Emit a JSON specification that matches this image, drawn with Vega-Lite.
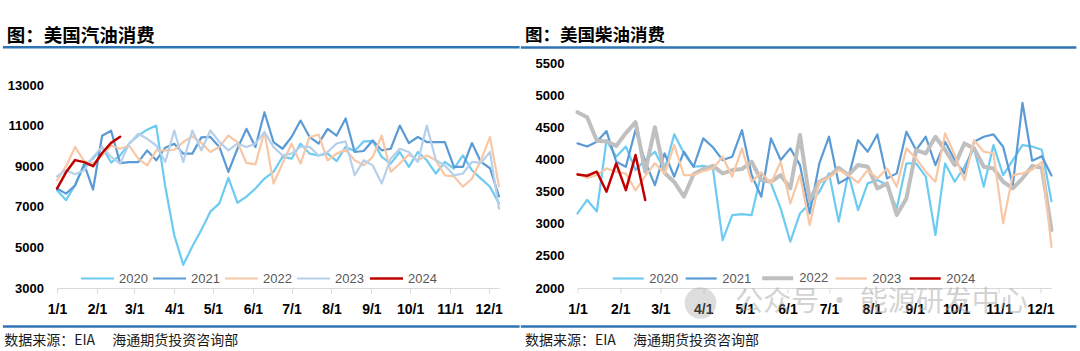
{
"$schema": "https://vega.github.io/schema/vega-lite/v6.json",
"padding": 0,
"background": "white",
"bounds": "flush",
"spacing": 78.5,
"config": {"view": {"stroke": null}},
"resolve": {"scale": {"color": "independent", "strokeWidth": "independent"}, "legend": {"color": "independent"}},
"datasets": {
"gasoline": [
{"date":"2020-01-01","year":"2020","value":7820},{"date":"2020-01-08","year":"2020","value":7330},{"date":"2020-01-15","year":"2020","value":8060},{"date":"2020-01-22","year":"2020","value":9040},{"date":"2020-01-29","year":"2020","value":9370},{"date":"2020-02-05","year":"2020","value":9950},{"date":"2020-02-12","year":"2020","value":9180},{"date":"2020-02-19","year":"2020","value":9530},{"date":"2020-02-26","year":"2020","value":10110},{"date":"2020-03-04","year":"2020","value":10510},{"date":"2020-03-11","year":"2020","value":10800},{"date":"2020-03-18","year":"2020","value":11000},{"date":"2020-03-25","year":"2020","value":8000},{"date":"2020-04-01","year":"2020","value":5600},{"date":"2020-04-08","year":"2020","value":4140},{"date":"2020-04-15","year":"2020","value":5040},{"date":"2020-04-22","year":"2020","value":5860},{"date":"2020-04-29","year":"2020","value":6760},{"date":"2020-05-06","year":"2020","value":7170},{"date":"2020-05-13","year":"2020","value":8430},{"date":"2020-05-20","year":"2020","value":7200},{"date":"2020-05-27","year":"2020","value":7500},{"date":"2020-06-03","year":"2020","value":7900},{"date":"2020-06-10","year":"2020","value":8390},{"date":"2020-06-17","year":"2020","value":8720},{"date":"2020-06-24","year":"2020","value":9460},{"date":"2020-07-01","year":"2020","value":9370},{"date":"2020-07-08","year":"2020","value":10110},{"date":"2020-07-15","year":"2020","value":9620},{"date":"2020-07-22","year":"2020","value":9530},{"date":"2020-07-29","year":"2020","value":9620},{"date":"2020-08-05","year":"2020","value":9250},{"date":"2020-08-12","year":"2020","value":9950},{"date":"2020-08-19","year":"2020","value":9750},{"date":"2020-08-26","year":"2020","value":10220},{"date":"2020-09-02","year":"2020","value":10240},{"date":"2020-09-09","year":"2020","value":9460},{"date":"2020-09-16","year":"2020","value":9130},{"date":"2020-09-23","year":"2020","value":9700},{"date":"2020-09-30","year":"2020","value":8970},{"date":"2020-10-07","year":"2020","value":9700},{"date":"2020-10-14","year":"2020","value":9290},{"date":"2020-10-21","year":"2020","value":8640},{"date":"2020-10-28","year":"2020","value":9210},{"date":"2020-11-04","year":"2020","value":8880},{"date":"2020-11-11","year":"2020","value":9530},{"date":"2020-11-18","year":"2020","value":8800},{"date":"2020-11-25","year":"2020","value":8390},{"date":"2020-12-02","year":"2020","value":7990},{"date":"2020-12-09","year":"2020","value":7170},
{"date":"2020-01-01","year":"2021","value":7900},{"date":"2020-01-08","year":"2021","value":7650},{"date":"2020-01-15","year":"2021","value":8050},{"date":"2020-01-22","year":"2021","value":9100},{"date":"2020-01-29","year":"2021","value":7850},{"date":"2020-02-05","year":"2021","value":10500},{"date":"2020-02-12","year":"2021","value":10750},{"date":"2020-02-19","year":"2021","value":9150},{"date":"2020-02-26","year":"2021","value":9200},{"date":"2020-03-04","year":"2021","value":9200},{"date":"2020-03-11","year":"2021","value":9780},{"date":"2020-03-18","year":"2021","value":9290},{"date":"2020-03-25","year":"2021","value":9910},{"date":"2020-04-01","year":"2021","value":10110},{"date":"2020-04-08","year":"2021","value":9620},{"date":"2020-04-15","year":"2021","value":9620},{"date":"2020-04-22","year":"2021","value":10420},{"date":"2020-04-29","year":"2021","value":10440},{"date":"2020-05-06","year":"2021","value":9950},{"date":"2020-05-13","year":"2021","value":8720},{"date":"2020-05-20","year":"2021","value":9860},{"date":"2020-05-27","year":"2021","value":10840},{"date":"2020-06-03","year":"2021","value":9950},{"date":"2020-06-10","year":"2021","value":11660},{"date":"2020-06-17","year":"2021","value":10190},{"date":"2020-06-24","year":"2021","value":9860},{"date":"2020-07-01","year":"2021","value":10440},{"date":"2020-07-08","year":"2021","value":11250},{"date":"2020-07-15","year":"2021","value":10440},{"date":"2020-07-22","year":"2021","value":10110},{"date":"2020-07-29","year":"2021","value":10840},{"date":"2020-08-05","year":"2021","value":10510},{"date":"2020-08-12","year":"2021","value":11350},{"date":"2020-08-19","year":"2021","value":9700},{"date":"2020-08-26","year":"2021","value":9750},{"date":"2020-09-02","year":"2021","value":10270},{"date":"2020-09-09","year":"2021","value":9780},{"date":"2020-09-16","year":"2021","value":9860},{"date":"2020-09-23","year":"2021","value":11000},{"date":"2020-09-30","year":"2021","value":10140},{"date":"2020-10-07","year":"2021","value":10440},{"date":"2020-10-14","year":"2021","value":10190},{"date":"2020-10-21","year":"2021","value":10190},{"date":"2020-10-28","year":"2021","value":10190},{"date":"2020-11-04","year":"2021","value":8970},{"date":"2020-11-11","year":"2021","value":8970},{"date":"2020-11-18","year":"2021","value":10140},{"date":"2020-11-25","year":"2021","value":9210},{"date":"2020-12-02","year":"2021","value":8900},{"date":"2020-12-09","year":"2021","value":7510},
{"date":"2020-01-01","year":"2022","value":8300},{"date":"2020-01-08","year":"2022","value":9000},{"date":"2020-01-15","year":"2022","value":9950},{"date":"2020-01-22","year":"2022","value":9250},{"date":"2020-01-29","year":"2022","value":9130},{"date":"2020-02-05","year":"2022","value":9530},{"date":"2020-02-12","year":"2022","value":10020},{"date":"2020-02-19","year":"2022","value":9860},{"date":"2020-02-26","year":"2022","value":10020},{"date":"2020-03-04","year":"2022","value":9370},{"date":"2020-03-11","year":"2022","value":9040},{"date":"2020-03-18","year":"2022","value":9780},{"date":"2020-03-25","year":"2022","value":9780},{"date":"2020-04-01","year":"2022","value":9810},{"date":"2020-04-08","year":"2022","value":10190},{"date":"2020-04-15","year":"2022","value":10470},{"date":"2020-04-22","year":"2022","value":10150},{"date":"2020-04-29","year":"2022","value":9700},{"date":"2020-05-06","year":"2022","value":9950},{"date":"2020-05-13","year":"2022","value":10510},{"date":"2020-05-20","year":"2022","value":10190},{"date":"2020-05-27","year":"2022","value":9160},{"date":"2020-06-03","year":"2022","value":9090},{"date":"2020-06-10","year":"2022","value":10700},{"date":"2020-06-17","year":"2022","value":8150},{"date":"2020-06-24","year":"2022","value":9130},{"date":"2020-07-01","year":"2022","value":10110},{"date":"2020-07-08","year":"2022","value":9130},{"date":"2020-07-15","year":"2022","value":10440},{"date":"2020-07-22","year":"2022","value":10550},{"date":"2020-07-29","year":"2022","value":9290},{"date":"2020-08-05","year":"2022","value":9620},{"date":"2020-08-12","year":"2022","value":9810},{"date":"2020-08-19","year":"2022","value":9290},{"date":"2020-08-26","year":"2022","value":9040},{"date":"2020-09-02","year":"2022","value":9460},{"date":"2020-09-09","year":"2022","value":10510},{"date":"2020-09-16","year":"2022","value":8720},{"date":"2020-09-23","year":"2022","value":9130},{"date":"2020-09-30","year":"2022","value":9570},{"date":"2020-10-07","year":"2022","value":9290},{"date":"2020-10-14","year":"2022","value":9530},{"date":"2020-10-21","year":"2022","value":9290},{"date":"2020-10-28","year":"2022","value":8550},{"date":"2020-11-04","year":"2022","value":8500},{"date":"2020-11-11","year":"2022","value":7990},{"date":"2020-11-18","year":"2022","value":8390},{"date":"2020-11-25","year":"2022","value":9290},{"date":"2020-12-02","year":"2022","value":10440},{"date":"2020-12-09","year":"2022","value":8010},
{"date":"2020-01-01","year":"2023","value":8500},{"date":"2020-01-08","year":"2023","value":8800},{"date":"2020-01-15","year":"2023","value":8600},{"date":"2020-01-22","year":"2023","value":8800},{"date":"2020-01-29","year":"2023","value":9460},{"date":"2020-02-05","year":"2023","value":9950},{"date":"2020-02-12","year":"2023","value":9460},{"date":"2020-02-19","year":"2023","value":9130},{"date":"2020-02-26","year":"2023","value":10110},{"date":"2020-03-04","year":"2023","value":10600},{"date":"2020-03-11","year":"2023","value":10350},{"date":"2020-03-18","year":"2023","value":10020},{"date":"2020-03-25","year":"2023","value":9210},{"date":"2020-04-01","year":"2023","value":10760},{"date":"2020-04-08","year":"2023","value":9210},{"date":"2020-04-15","year":"2023","value":10760},{"date":"2020-04-22","year":"2023","value":9780},{"date":"2020-04-29","year":"2023","value":10760},{"date":"2020-05-06","year":"2023","value":10190},{"date":"2020-05-13","year":"2023","value":9780},{"date":"2020-05-20","year":"2023","value":10110},{"date":"2020-05-27","year":"2023","value":9950},{"date":"2020-06-03","year":"2023","value":10110},{"date":"2020-06-10","year":"2023","value":10680},{"date":"2020-06-17","year":"2023","value":9950},{"date":"2020-06-24","year":"2023","value":9530},{"date":"2020-07-01","year":"2023","value":9620},{"date":"2020-07-08","year":"2023","value":9950},{"date":"2020-07-15","year":"2023","value":9950},{"date":"2020-07-22","year":"2023","value":9530},{"date":"2020-07-29","year":"2023","value":9700},{"date":"2020-08-05","year":"2023","value":10120},{"date":"2020-08-12","year":"2023","value":10220},{"date":"2020-08-19","year":"2023","value":8550},{"date":"2020-08-26","year":"2023","value":9290},{"date":"2020-09-02","year":"2023","value":9040},{"date":"2020-09-09","year":"2023","value":8150},{"date":"2020-09-16","year":"2023","value":9370},{"date":"2020-09-23","year":"2023","value":9860},{"date":"2020-09-30","year":"2023","value":9700},{"date":"2020-10-07","year":"2023","value":9210},{"date":"2020-10-14","year":"2023","value":11000},{"date":"2020-10-21","year":"2023","value":9290},{"date":"2020-10-28","year":"2023","value":9040},{"date":"2020-11-04","year":"2023","value":8550},{"date":"2020-11-11","year":"2023","value":8640},{"date":"2020-11-18","year":"2023","value":9210},{"date":"2020-11-25","year":"2023","value":9160},{"date":"2020-12-02","year":"2023","value":9700},{"date":"2020-12-09","year":"2023","value":6910},
{"date":"2020-01-01","year":"2024","value":7900},{"date":"2020-01-08","year":"2024","value":8700},{"date":"2020-01-15","year":"2024","value":9300},{"date":"2020-01-22","year":"2024","value":9200},{"date":"2020-01-29","year":"2024","value":9000},{"date":"2020-02-05","year":"2024","value":9650},{"date":"2020-02-12","year":"2024","value":10150},{"date":"2020-02-19","year":"2024","value":10450}
],
"diesel": [
{"date":"2020-01-01","year":"2020","value":3160},{"date":"2020-01-08","year":"2020","value":3370},{"date":"2020-01-15","year":"2020","value":3190},{"date":"2020-01-22","year":"2020","value":4300},{"date":"2020-01-29","year":"2020","value":4040},{"date":"2020-02-05","year":"2020","value":4200},{"date":"2020-02-12","year":"2020","value":3835},{"date":"2020-02-19","year":"2020","value":3990},{"date":"2020-02-26","year":"2020","value":4120},{"date":"2020-03-04","year":"2020","value":3835},{"date":"2020-03-11","year":"2020","value":4390},{"date":"2020-03-18","year":"2020","value":4095},{"date":"2020-03-25","year":"2020","value":3886},{"date":"2020-04-01","year":"2020","value":3900},{"date":"2020-04-08","year":"2020","value":3860},{"date":"2020-04-15","year":"2020","value":2746},{"date":"2020-04-22","year":"2020","value":3135},{"date":"2020-04-29","year":"2020","value":3150},{"date":"2020-05-06","year":"2020","value":3135},{"date":"2020-05-13","year":"2020","value":3783},{"date":"2020-05-20","year":"2020","value":3627},{"date":"2020-05-27","year":"2020","value":3238},{"date":"2020-06-03","year":"2020","value":2720},{"date":"2020-06-10","year":"2020","value":3160},{"date":"2020-06-17","year":"2020","value":3316},{"date":"2020-06-24","year":"2020","value":3497},{"date":"2020-07-01","year":"2020","value":3783},{"date":"2020-07-08","year":"2020","value":3031},{"date":"2020-07-15","year":"2020","value":3783},{"date":"2020-07-22","year":"2020","value":3213},{"date":"2020-07-29","year":"2020","value":3627},{"date":"2020-08-05","year":"2020","value":3679},{"date":"2020-08-12","year":"2020","value":3601},{"date":"2020-08-19","year":"2020","value":3238},{"date":"2020-08-26","year":"2020","value":3938},{"date":"2020-09-02","year":"2020","value":3938},{"date":"2020-09-09","year":"2020","value":3731},{"date":"2020-09-16","year":"2020","value":2824},{"date":"2020-09-23","year":"2020","value":3938},{"date":"2020-09-30","year":"2020","value":3653},{"date":"2020-10-07","year":"2020","value":3886},{"date":"2020-10-14","year":"2020","value":4172},{"date":"2020-10-21","year":"2020","value":3575},{"date":"2020-10-28","year":"2020","value":4223},{"date":"2020-11-04","year":"2020","value":3757},{"date":"2020-11-11","year":"2020","value":3990},{"date":"2020-11-18","year":"2020","value":4223},{"date":"2020-11-25","year":"2020","value":4200},{"date":"2020-12-02","year":"2020","value":4150},{"date":"2020-12-09","year":"2020","value":3350},
{"date":"2020-01-01","year":"2021","value":4250},{"date":"2020-01-08","year":"2021","value":4200},{"date":"2020-01-15","year":"2021","value":4275},{"date":"2020-01-22","year":"2021","value":4441},{"date":"2020-01-29","year":"2021","value":3964},{"date":"2020-02-05","year":"2021","value":3886},{"date":"2020-02-12","year":"2021","value":4460},{"date":"2020-02-19","year":"2021","value":3964},{"date":"2020-02-26","year":"2021","value":3601},{"date":"2020-03-04","year":"2021","value":4094},{"date":"2020-03-11","year":"2021","value":3731},{"date":"2020-03-18","year":"2021","value":4120},{"date":"2020-03-25","year":"2021","value":3886},{"date":"2020-04-01","year":"2021","value":4327},{"date":"2020-04-08","year":"2021","value":4190},{"date":"2020-04-15","year":"2021","value":3990},{"date":"2020-04-22","year":"2021","value":4042},{"date":"2020-04-29","year":"2021","value":4457},{"date":"2020-05-06","year":"2021","value":3757},{"date":"2020-05-13","year":"2021","value":3420},{"date":"2020-05-20","year":"2021","value":4327},{"date":"2020-05-27","year":"2021","value":3990},{"date":"2020-06-03","year":"2021","value":4172},{"date":"2020-06-10","year":"2021","value":3912},{"date":"2020-06-17","year":"2021","value":3161},{"date":"2020-06-24","year":"2021","value":3938},{"date":"2020-07-01","year":"2021","value":4353},{"date":"2020-07-08","year":"2021","value":3627},{"date":"2020-07-15","year":"2021","value":3715},{"date":"2020-07-22","year":"2021","value":4300},{"date":"2020-07-29","year":"2021","value":4120},{"date":"2020-08-05","year":"2021","value":4389},{"date":"2020-08-12","year":"2021","value":3705},{"date":"2020-08-19","year":"2021","value":3783},{"date":"2020-08-26","year":"2021","value":4431},{"date":"2020-09-02","year":"2021","value":4146},{"date":"2020-09-09","year":"2021","value":4353},{"date":"2020-09-16","year":"2021","value":3912},{"date":"2020-09-23","year":"2021","value":4275},{"date":"2020-09-30","year":"2021","value":3990},{"date":"2020-10-07","year":"2021","value":3783},{"date":"2020-10-14","year":"2021","value":4275},{"date":"2020-10-21","year":"2021","value":4353},{"date":"2020-10-28","year":"2021","value":4389},{"date":"2020-11-04","year":"2021","value":4197},{"date":"2020-11-11","year":"2021","value":3601},{"date":"2020-11-18","year":"2021","value":4880},{"date":"2020-11-25","year":"2021","value":3980},{"date":"2020-12-02","year":"2021","value":4050},{"date":"2020-12-09","year":"2021","value":3750},
{"date":"2020-01-01","year":"2022","value":4735},{"date":"2020-01-08","year":"2022","value":4655},{"date":"2020-01-15","year":"2022","value":4290},{"date":"2020-01-22","year":"2022","value":4280},{"date":"2020-01-29","year":"2022","value":4210},{"date":"2020-02-05","year":"2022","value":4410},{"date":"2020-02-12","year":"2022","value":4580},{"date":"2020-02-19","year":"2022","value":3810},{"date":"2020-02-26","year":"2022","value":4500},{"date":"2020-03-04","year":"2022","value":3790},{"date":"2020-03-11","year":"2022","value":3650},{"date":"2020-03-18","year":"2022","value":3420},{"date":"2020-03-25","year":"2022","value":3770},{"date":"2020-04-01","year":"2022","value":3850},{"date":"2020-04-08","year":"2022","value":3900},{"date":"2020-04-15","year":"2022","value":3783},{"date":"2020-04-22","year":"2022","value":3835},{"date":"2020-04-29","year":"2022","value":3850},{"date":"2020-05-06","year":"2022","value":3964},{"date":"2020-05-13","year":"2022","value":3679},{"date":"2020-05-20","year":"2022","value":3653},{"date":"2020-05-27","year":"2022","value":3757},{"date":"2020-06-03","year":"2022","value":3549},{"date":"2020-06-10","year":"2022","value":4379},{"date":"2020-06-17","year":"2022","value":3368},{"date":"2020-06-24","year":"2022","value":3653},{"date":"2020-07-01","year":"2022","value":3731},{"date":"2020-07-08","year":"2022","value":3871},{"date":"2020-07-15","year":"2022","value":3757},{"date":"2020-07-22","year":"2022","value":3912},{"date":"2020-07-29","year":"2022","value":3886},{"date":"2020-08-05","year":"2022","value":3549},{"date":"2020-08-12","year":"2022","value":3627},{"date":"2020-08-19","year":"2022","value":3135},{"date":"2020-08-26","year":"2022","value":3394},{"date":"2020-09-02","year":"2022","value":4146},{"date":"2020-09-09","year":"2022","value":4094},{"date":"2020-09-16","year":"2022","value":4353},{"date":"2020-09-23","year":"2022","value":4146},{"date":"2020-09-30","year":"2022","value":3912},{"date":"2020-10-07","year":"2022","value":4249},{"date":"2020-10-14","year":"2022","value":4172},{"date":"2020-10-21","year":"2022","value":3886},{"date":"2020-10-28","year":"2022","value":3860},{"date":"2020-11-04","year":"2022","value":3653},{"date":"2020-11-11","year":"2022","value":3549},{"date":"2020-11-18","year":"2022","value":3705},{"date":"2020-11-25","year":"2022","value":3900},{"date":"2020-12-02","year":"2022","value":3870},{"date":"2020-12-09","year":"2022","value":2900},
{"date":"2020-01-01","year":"2023","value":3780},{"date":"2020-01-08","year":"2023","value":3710},{"date":"2020-01-15","year":"2023","value":3760},{"date":"2020-01-22","year":"2023","value":3860},{"date":"2020-01-29","year":"2023","value":3810},{"date":"2020-02-05","year":"2023","value":3780},{"date":"2020-02-12","year":"2023","value":3520},{"date":"2020-02-19","year":"2023","value":3740},{"date":"2020-02-26","year":"2023","value":3940},{"date":"2020-03-04","year":"2023","value":3780},{"date":"2020-03-11","year":"2023","value":4223},{"date":"2020-03-18","year":"2023","value":3757},{"date":"2020-03-25","year":"2023","value":3757},{"date":"2020-04-01","year":"2023","value":3819},{"date":"2020-04-08","year":"2023","value":3860},{"date":"2020-04-15","year":"2023","value":4042},{"date":"2020-04-22","year":"2023","value":3731},{"date":"2020-04-29","year":"2023","value":4172},{"date":"2020-05-06","year":"2023","value":3653},{"date":"2020-05-13","year":"2023","value":3798},{"date":"2020-05-20","year":"2023","value":3627},{"date":"2020-05-27","year":"2023","value":3964},{"date":"2020-06-03","year":"2023","value":3316},{"date":"2020-06-10","year":"2023","value":3757},{"date":"2020-06-17","year":"2023","value":2979},{"date":"2020-06-24","year":"2023","value":3653},{"date":"2020-07-01","year":"2023","value":3715},{"date":"2020-07-08","year":"2023","value":3835},{"date":"2020-07-15","year":"2023","value":3757},{"date":"2020-07-22","year":"2023","value":3640},{"date":"2020-07-29","year":"2023","value":3835},{"date":"2020-08-05","year":"2023","value":3705},{"date":"2020-08-12","year":"2023","value":3860},{"date":"2020-08-19","year":"2023","value":3575},{"date":"2020-08-26","year":"2023","value":4172},{"date":"2020-09-02","year":"2023","value":4016},{"date":"2020-09-09","year":"2023","value":3809},{"date":"2020-09-16","year":"2023","value":3653},{"date":"2020-09-23","year":"2023","value":4405},{"date":"2020-09-30","year":"2023","value":4068},{"date":"2020-10-07","year":"2023","value":3679},{"date":"2020-10-14","year":"2023","value":4301},{"date":"2020-10-21","year":"2023","value":4120},{"date":"2020-10-28","year":"2023","value":4094},{"date":"2020-11-04","year":"2023","value":3005},{"date":"2020-11-11","year":"2023","value":3757},{"date":"2020-11-18","year":"2023","value":3783},{"date":"2020-11-25","year":"2023","value":3841},{"date":"2020-12-02","year":"2023","value":3960},{"date":"2020-12-09","year":"2023","value":2640},
{"date":"2020-01-01","year":"2024","value":3767},{"date":"2020-01-08","year":"2024","value":3746},{"date":"2020-01-15","year":"2024","value":3809},{"date":"2020-01-22","year":"2024","value":3498},{"date":"2020-01-29","year":"2024","value":3938},{"date":"2020-02-05","year":"2024","value":3523},{"date":"2020-02-12","year":"2024","value":4068},{"date":"2020-02-19","year":"2024","value":3368}
]
},
"hconcat": [
{
"width": 442,
"height": 225,
"layer": [
{
"data": {"name": "gasoline"},
"mark": {"type": "line", "strokeJoin": "round", "strokeCap": "round"},
"encoding": {
"x": {"field": "date", "type": "temporal",
 "scale": {"type": "utc", "domain": [{"year": 2020, "month": 1, "date": 1, "utc": true}, {"year": 2020, "month": 12, "date": 9, "utc": true}]},
 "axis": {"title": null, "tickCount": {"interval": "month", "step": 1}, "format": "%-m/%-d", "labelFlush": false, "labelOverlap": false, "grid": false, "domainColor": "#D9D9D9", "tickColor": "#D9D9D9", "tickSize": 5, "labelFont": "Liberation Sans", "labelFontSize": 14, "labelFontWeight": "bold", "labelColor": "#000000", "labelPadding": 9}},
"y": {"field": "value", "type": "quantitative",
 "scale": {"domain": [3000, 14084], "nice": false, "zero": false},
 "axis": {"title": null, "values": [3000, 5000, 7000, 9000, 11000, 13000], "tickCount": 20, "format": "d", "labelOverlap": false, "domain": false, "ticks": false, "grid": false, "labelFlush": false, "labelFont": "Liberation Sans", "labelFontSize": 13, "labelFontWeight": "bold", "labelColor": "#000000", "labelPadding": 13.5}},
"color": {"field": "year", "type": "nominal",
 "scale": {"domain": ["2020", "2021", "2022", "2023", "2024"], "range": ["#6DCBF2", "#5B9BD5", "#F7C7A6", "#B7D0EA", "#C00000"]},
 "legend": {"title": null, "orient": "none", "legendX": 22.5, "legendY": 197.5, "direction": "horizontal", "symbolType": "stroke", "symbolSize": 1089, "symbolStrokeWidth": 2.5, "labelFont": "Liberation Sans", "labelFontSize": 13, "labelColor": "#595959", "labelOffset": 3.5, "columnPadding": 0, "padding": 0}},
"strokeWidth": {"field": "year", "type": "ordinal", "scale": {"type": "ordinal", "domain": ["2020", "2021", "2022", "2023", "2024"], "range": [2.2, 2.2, 2.2, 2.2, 2.5]}, "legend": null}
}
},
{
"data": {"values": [{}]},
"mark": {"type": "rule", "color": "#2E75B6", "strokeWidth": 2.5},
"encoding": {"x": {"datum": {"year": 2019, "month": 11, "date": 20, "utc": true}, "type": "temporal"}, "x2": {"datum": {"year": 2020, "month": 12, "date": 25, "utc": true}}, "y": {"datum": 14857, "type": "quantitative"}}
},
{
"data": {"values": [{}]},
"mark": {"type": "rule", "color": "#2E75B6", "strokeWidth": 2.5},
"encoding": {"x": {"datum": {"year": 2019, "month": 11, "date": 20, "utc": true}, "type": "temporal"}, "x2": {"datum": {"year": 2020, "month": 12, "date": 25, "utc": true}}, "y": {"datum": 1103, "type": "quantitative"}}
},
{
"data": {"values": [{}]},
"mark": {"type": "rule", "color": "#ffffff", "strokeOpacity": 0},
"encoding": {"x": {"datum": {"year": 2019, "month": 11, "date": 18, "utc": true}, "type": "temporal"}, "x2": {"datum": {"year": 2019, "month": 11, "date": 19, "utc": true}}, "y": {"datum": 17187, "type": "quantitative"}}
},
{
"data": {"values": [{}]},
"mark": {"type": "text", "text": "图：美国汽油消费", "align": "left", "baseline": "middle", "font": "Noto Sans CJK SC", "fontSize": 18.5, "fontWeight": "bold", "color": "#000000"},
"encoding": {"x": {"datum": {"year": 2019, "month": 11, "date": 23, "utc": true}, "type": "temporal"}, "y": {"datum": 15430, "type": "quantitative"}}
},
{
"data": {"values": [{}]},
"mark": {"type": "text", "text": "数据来源：EIA　 海通期货投资咨询部", "align": "left", "baseline": "middle", "font": "Noto Sans CJK SC", "fontSize": 14, "color": "#1A1A1A"},
"encoding": {"x": {"datum": {"year": 2019, "month": 11, "date": 21, "utc": true}, "type": "temporal"}, "y": {"datum": 389, "type": "quantitative"}}
}
]
},
{
"width": 474,
"height": 225,
"layer": [
{
"data": {"name": "diesel"},
"mark": {"type": "line", "strokeJoin": "round", "strokeCap": "round"},
"encoding": {
"x": {"field": "date", "type": "temporal",
 "scale": {"type": "utc", "domain": [{"year": 2020, "month": 1, "date": 1, "utc": true}, {"year": 2020, "month": 12, "date": 9, "utc": true}]},
 "axis": {"title": null, "tickCount": {"interval": "month", "step": 1}, "format": "%-m/%-d", "labelFlush": false, "labelOverlap": false, "grid": false, "domainColor": "#D9D9D9", "tickColor": "#D9D9D9", "tickSize": 5, "labelFont": "Liberation Sans", "labelFontSize": 14, "labelFontWeight": "bold", "labelColor": "#000000", "labelPadding": 9}},
"y": {"field": "value", "type": "quantitative",
 "scale": {"domain": [2000, 5500], "nice": false, "zero": false},
 "axis": {"title": null, "values": [2000, 2500, 3000, 3500, 4000, 4500, 5000, 5500], "tickCount": 20, "format": "d", "labelOverlap": false, "domain": false, "ticks": false, "grid": false, "labelFlush": false, "labelFont": "Liberation Sans", "labelFontSize": 13, "labelFontWeight": "bold", "labelColor": "#000000", "labelPadding": 13.5}},
"color": {"field": "year", "type": "nominal",
 "scale": {"domain": ["2020", "2021", "2022", "2023", "2024"], "range": ["#6DCBF2", "#5B9BD5", "#BFBFBF", "#F7C7A6", "#C00000"]},
 "legend": {"title": null, "orient": "none", "legendX": 33.7, "legendY": 197.5, "direction": "horizontal", "symbolType": "stroke", "symbolSize": 961, "symbolStrokeWidth": 2.5, "labelFont": "Liberation Sans", "labelFontSize": 13, "labelColor": "#595959", "labelOffset": 4, "columnPadding": 3, "padding": 0,
  "encode": {"symbols": {"update": {"strokeWidth": {"signal": "datum.value === '2022' ? 4.5 : 2.5"}}}}}},
"strokeWidth": {"field": "year", "type": "ordinal", "scale": {"type": "ordinal", "domain": ["2020", "2021", "2022", "2023", "2024"], "range": [2.2, 2.2, 4, 2.2, 2.5]}, "legend": null}
}
},
{
"data": {"values": [{}]},
"mark": {"type": "rule", "color": "#2E75B6", "strokeWidth": 2.5},
"encoding": {"x": {"datum": {"year": 2019, "month": 11, "date": 21, "utc": true}, "type": "temporal"}, "x2": {"datum": {"year": 2020, "month": 12, "date": 27, "utc": true}}, "y": {"datum": 5741, "type": "quantitative"}}
},
{
"data": {"values": [{}]},
"mark": {"type": "rule", "color": "#2E75B6", "strokeWidth": 2.5},
"encoding": {"x": {"datum": {"year": 2019, "month": 11, "date": 21, "utc": true}, "type": "temporal"}, "x2": {"datum": {"year": 2020, "month": 12, "date": 27, "utc": true}}, "y": {"datum": 1401, "type": "quantitative"}}
},
{
"data": {"values": [{}]},
"mark": {"type": "text", "text": "图：美国柴油消费", "align": "left", "baseline": "middle", "font": "Noto Sans CJK SC", "fontSize": 17.5, "fontWeight": "bold", "color": "#000000"},
"encoding": {"x": {"datum": {"year": 2019, "month": 11, "date": 24, "utc": true}, "type": "temporal"}, "y": {"datum": 5920, "type": "quantitative"}}
},
{
"data": {"values": [{}]},
"mark": {"type": "text", "text": "数据来源：EIA　 海通期货投资咨询部", "align": "left", "baseline": "middle", "font": "Noto Sans CJK SC", "fontSize": 14, "color": "#1A1A1A"},
"encoding": {"x": {"datum": {"year": 2019, "month": 11, "date": 24, "utc": true}, "type": "temporal"}, "y": {"datum": 1176, "type": "quantitative"}}
},
{
"data": {"values": [{}]},
"mark": {"type": "point", "shape": "circle", "filled": true, "size": 1000, "color": "#9E9E9E", "opacity": 0.35},
"encoding": {"x": {"datum": {"year": 2020, "month": 3, "date": 30, "utc": true}, "type": "temporal"}, "y": {"datum": 1767, "type": "quantitative"}}
},
{
"data": {"values": [{}]},
"mark": {"type": "text", "text": "公众号 · 能源研发中心", "align": "center", "baseline": "middle", "font": "Noto Sans CJK SC", "fontSize": 28, "color": "#9E9E9E", "opacity": 0.45},
"encoding": {"x": {"datum": {"year": 2020, "month": 8, "date": 8, "utc": true}, "type": "temporal"}, "y": {"datum": 1767, "type": "quantitative"}}
}
]
}
]
}
